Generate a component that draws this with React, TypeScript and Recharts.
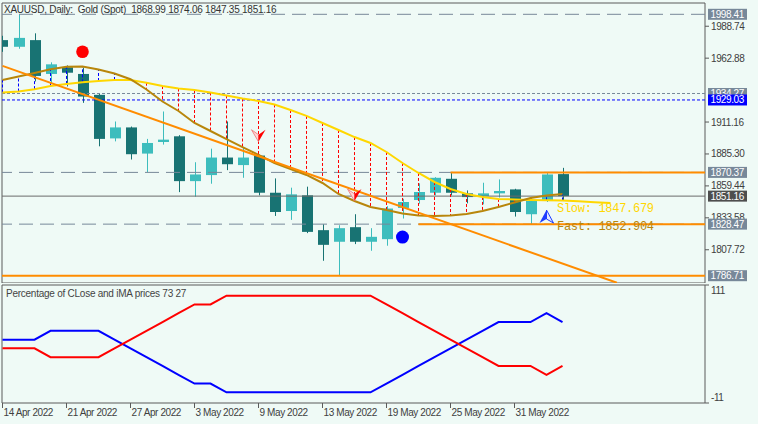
import React from 'react';
import { ComposedChart, Bar, Line, XAxis, YAxis, ReferenceLine, ReferenceDot, ReferenceArea } from 'recharts';

// daily bars, XAUUSD
const dates = [
  '14 Apr 2022', '18 Apr 2022', '19 Apr 2022', '20 Apr 2022', '21 Apr 2022', '22 Apr 2022',
  '25 Apr 2022', '26 Apr 2022', '27 Apr 2022', '28 Apr 2022', '29 Apr 2022', '2 May 2022',
  '3 May 2022', '4 May 2022', '5 May 2022', '6 May 2022', '9 May 2022', '10 May 2022',
  '11 May 2022', '12 May 2022', '13 May 2022', '16 May 2022', '17 May 2022', '18 May 2022',
  '19 May 2022', '20 May 2022', '23 May 2022', '24 May 2022', '25 May 2022', '26 May 2022',
  '27 May 2022', '30 May 2022', '31 May 2022', '1 Jun 2022', '2 Jun 2022', '3 Jun 2022',
];
const opens = [1977.5, 1972.1, 1977.5, 1950.1, 1955.5, 1950.1, 1933.2, 1897.9, 1906.8, 1885.6, 1895.0, 1899.6, 1863.3, 1868.2, 1882.4, 1876.3, 1884.0, 1853.9, 1839.1, 1851.8, 1823.6, 1814.2, 1826.0, 1814.2, 1816.3, 1841.6, 1848.0, 1853.9, 1865.2, 1853.4, 1851.2, 1853.4, 1856.6, 1836.5, 1847.2, 1868.99];
const highs = [1981.0, 1998.41, 1983.0, 1959.5, 1957.0, 1955.3, 1934.5, 1911.6, 1907.5, 1897.5, 1919.7, 1900.5, 1878.6, 1889.6, 1911.6, 1890.2, 1884.8, 1865.5, 1858.0, 1858.8, 1828.4, 1827.6, 1836.5, 1825.2, 1843.0, 1849.0, 1861.5, 1866.5, 1870.37, 1855.8, 1862.0, 1864.7, 1857.1, 1850.0, 1870.37, 1874.06];
const lows = [1968.0, 1970.5, 1944.0, 1942.0, 1940.0, 1926.7, 1891.5, 1895.5, 1880.8, 1870.6, 1892.9, 1854.4, 1850.7, 1861.2, 1872.2, 1866.0, 1851.8, 1835.1, 1831.9, 1821.2, 1798.8, 1786.71, 1812.3, 1806.9, 1811.0, 1833.0, 1845.0, 1851.8, 1851.8, 1845.3, 1844.5, 1850.0, 1834.6, 1828.47, 1846.4, 1847.35];
const closes = [1972.1, 1979.3, 1948.5, 1957.9, 1951.1, 1931.8, 1897.5, 1906.8, 1885.1, 1894.2, 1896.9, 1863.3, 1868.7, 1882.4, 1877.0, 1882.4, 1853.9, 1838.3, 1852.6, 1822.2, 1811.7, 1825.2, 1814.2, 1818.2, 1841.1, 1846.4, 1854.5, 1866.0, 1853.9, 1850.4, 1853.4, 1855.3, 1838.3, 1847.2, 1868.7, 1851.16];

// slow MA is shifted 3 bars forward
const slowMa = [1935.1, 1935.9, 1937.8, 1940.3, 1942.0, 1943.3, 1944.4, 1945.2, 1945.2, 1943.0, 1940.3, 1938.3, 1937.1, 1935.1, 1932.7, 1930.2, 1928.2, 1925.4, 1920.9, 1916.1, 1910.4, 1904.7, 1899.0, 1894.2, 1886.9, 1878.0, 1869.9, 1862.6, 1856.9, 1852.9, 1850.5, 1848.9, 1848.4, 1848.0, 1847.8, 1847.68, 1847.0, 1846.2, 1845.5];
const fastMa = [1945.2, 1948.0, 1950.9, 1953.9, 1956.0, 1956.1, 1953.7, 1950.5, 1945.8, 1937.5, 1927.8, 1920.1, 1910.4, 1903.9, 1897.4, 1890.9, 1884.5, 1878.0, 1873.1, 1868.3, 1861.8, 1852.9, 1847.2, 1842.4, 1839.9, 1837.1, 1835.5, 1835.1, 1835.5, 1836.7, 1839.1, 1842.4, 1846.0, 1849.6, 1851.7, 1852.9];

// lower window: percentage of closes above / below iMA
const pctBlue = [54.5, 54.5, 54.5, 63.6, 63.6, 63.6, 63.6, 54.5, 45.5, 36.4, 27.3, 18.2, 9.1, 9.1, 0, 0, 0, 0, 0, 0, 0, 0, 0, 0, 9.1, 18.2, 27.3, 36.4, 45.5, 54.5, 63.6, 72.7, 72.7, 72.7, 81.8, 72.7];
const pctRed = [45.5, 45.5, 45.5, 36.4, 36.4, 36.4, 36.4, 45.5, 54.5, 63.6, 72.7, 81.8, 90.9, 90.9, 100, 100, 100, 100, 100, 100, 100, 100, 100, 100, 90.9, 81.8, 72.7, 63.6, 54.5, 45.5, 36.4, 27.3, 27.3, 27.3, 18.2, 27.3];

// 1937.02 sits under the price tags, so it is left out like in the terminal
const priceTicks = [1988.74, 1962.88, 1911.16, 1885.30, 1859.44, 1833.58, 1807.72];
const pctTicks = [111, -11];
const dateTickIdx = [0, 4, 8, 12, 16, 20, 24, 28, 32];

const trendStart = { i: 0, p: 1956.6 };
const trendEnd = { i: 38.4, p: 1781.0 };
const sellCircles = [{ i: 5, p: 1968.1 }];
const buyCircles = [{ i: 25, p: 1818.0 }];
const downArrows = [{ i: 16, p: 1895.2 }, { i: 22, p: 1847.2 }];
const upArrows = [{ i: 34, p: 1839.9 }];

const X_MIN = -0.03125;
const X_MAX = 43.906;
const Y_MIN = 1780.8;
const Y_MAX = 2007.56;

const BG = '#EFFAF6';
const AXIS = '#5A5A5A';
const TXT = '#404040';
const BULL = '#3DBDBD';
const BEAR = '#187373';
const SLATE = '#778899';
const FONT = '"Liberation Sans", Arial, sans-serif';

const rows = Array.from({ length: slowMa.length }, (_, i) => ({
  i,
  range: i < opens.length ? [lows[i], highs[i]] : undefined,
  o: opens[i],
  h: highs[i],
  l: lows[i],
  c: closes[i],
  slow: slowMa[i],
  fast: fastMa[i],
}));
const pctRows = pctBlue.map((b, i) => ({ i, blue: b, red: pctRed[i] }));

const Candle = (props: any) => {
  const { x, y, width, height, payload } = props;
  if (!payload || payload.o == null) return null;
  const { o, h, l, c } = payload;
  const top = Math.min(y, y + height);
  const span = Math.abs(height);
  const k = span / (h - l);
  const cx = Math.floor(x + width / 2) + 0.5;
  const bTop = top + (h - Math.max(o, c)) * k;
  const bBot = top + (h - Math.min(o, c)) * k;
  const col = c >= o ? BULL : BEAR;
  return (
    <g>
      <line x1={cx} x2={cx} y1={top} y2={top + span} stroke={col} strokeWidth={1} />
      <rect x={cx - 5.5} y={bTop} width={11} height={Math.max(1, bBot - bTop)} fill={col} />
    </g>
  );
};

// axis ticks drawn as dots on the right edge so the price tags can cover them
const priceTick = (value: number) => (p: any) => (
  <g>
    <line x1={p.cx} x2={p.cx + 4} y1={p.cy} y2={p.cy} stroke={AXIS} />
    <text x={p.cx + 6} y={p.cy + 3.5} fontSize={10} fill={TXT} fontFamily={FONT} letterSpacing={-0.4}>
      {value.toFixed(2)}
    </text>
  </g>
);

const pctTick = (value: number) => (p: any) => (
  <g>
    <line x1={p.cx} x2={p.cx + 4} y1={p.cy} y2={p.cy} stroke={AXIS} />
    <text x={p.cx + 6} y={value > 50 ? p.cy + 8.5 : p.cy - 2} fontSize={10} fill={TXT} fontFamily={FONT} letterSpacing={-0.4}>
      {value}
    </text>
  </g>
);

const DateTick = (props: any) => {
  const { x, y, payload } = props;
  return (
    <g>
      <line x1={x} x2={x} y1={y} y2={y + 5} stroke={AXIS} />
      <text x={x + 1} y={y + 13} fontSize={10} fill={TXT} fontFamily={FONT} letterSpacing={-0.4}>
        {dates[payload.value]}
      </text>
    </g>
  );
};

const tag = (value: number, bg: string) => (p: any) => (
  <g>
    <rect x={p.cx + 3} y={p.cy - 5.5} width={39} height={11} fill={bg} />
    <text x={p.cx + 5.5} y={p.cy + 3.5} fontSize={10} fill="#ffffff" fontFamily={FONT} letterSpacing={-0.4}>
      {value.toFixed(2)}
    </text>
  </g>
);

const DownArrow = (p: any) => (
  <g>
    <polygon points={`${p.cx - 7},${p.cy - 12} ${p.cx},${p.cy - 7} ${p.cx},${p.cy}`} fill="#FFD6D6" stroke="#F08A8A" strokeWidth={1} />
    <polygon points={`${p.cx},${p.cy - 7} ${p.cx + 7},${p.cy - 12} ${p.cx},${p.cy}`} fill="#FF0000" />
  </g>
);

const UpArrow = (p: any) => (
  <g>
    <polygon points={`${p.cx - 7},${p.cy + 13} ${p.cx},${p.cy + 9} ${p.cx},${p.cy}`} fill="#1E3CFF" />
    <polygon points={`${p.cx},${p.cy + 9} ${p.cx + 7},${p.cy + 13} ${p.cx},${p.cy}`} fill="#E4EAFF" stroke="#1E3CFF" strokeWidth={1} />
  </g>
);

const labelText = (text: string, color: string) => (p: any) => (
  <text x={p.cx} y={p.cy + 4} fontSize={12} letterSpacing={-0.3} fill={color} fontFamily='"Liberation Mono", monospace'>
    {text}
  </text>
);

export default function App() {
  return (
    <div style={{ position: 'absolute', left: 0, top: 0, width: 758, height: 424, background: BG, overflow: 'hidden' }}>
      <div style={{ position: 'absolute', left: 0, top: 0 }}>
        <ComposedChart width={758} height={283} data={rows} margin={{ top: 3, right: 0, bottom: 0, left: 2 }}>
          <XAxis type="number" dataKey="i" domain={[X_MIN, X_MAX]} allowDataOverflow hide />
          <YAxis orientation="right" width={53} domain={[Y_MIN, Y_MAX]} allowDataOverflow tick={false} axisLine={false} tickLine={false} />
          <ReferenceLine y={1998.41} stroke={SLATE} strokeDasharray="14 7" ifOverflow="visible" />
          <ReferenceLine y={1934.27} stroke={SLATE} strokeDasharray="3 2" ifOverflow="visible" />
          <ReferenceLine y={1929.03} stroke="#0000FF" strokeDasharray="3 2" ifOverflow="visible" />
          <ReferenceLine y={1870.37} stroke={SLATE} strokeDasharray="14 7" ifOverflow="visible" />
          <ReferenceLine y={1828.47} stroke={SLATE} strokeDasharray="14 7" ifOverflow="visible" />
          <ReferenceLine y={1851.16} stroke="#6A6A6A" ifOverflow="visible" />
          <ReferenceLine segment={[{ x: 28, y: 1870.37 }, { x: X_MAX, y: 1870.37 }]} stroke="#FF8C00" strokeWidth={2} ifOverflow="visible" />
          <ReferenceLine segment={[{ x: 26, y: 1828.47 }, { x: X_MAX, y: 1828.47 }]} stroke="#FF8C00" strokeWidth={2} ifOverflow="visible" />
          <ReferenceLine y={1786.71} stroke="#FF8C00" strokeWidth={2} ifOverflow="visible" />
          <Bar dataKey="range" barSize={11} shape={(p: any) => <Candle {...p} />} isAnimationActive={false} />
          {fastMa.map((f, i) => (
            <ReferenceLine
              key={`v${i}`}
              segment={[{ x: i, y: slowMa[i] }, { x: i, y: f }]}
              stroke={f >= slowMa[i] ? '#0000FF' : '#FF0000'}
              strokeDasharray="3 2"
              ifOverflow="visible"
            />
          ))}
          <Line dataKey="slow" type="linear" stroke="#FFD700" strokeWidth={2} dot={false} isAnimationActive={false} />
          <Line dataKey="fast" type="linear" stroke="#B8860B" strokeWidth={2} dot={false} isAnimationActive={false} />
          <ReferenceLine
            segment={[{ x: trendStart.i, y: trendStart.p }, { x: trendEnd.i, y: trendEnd.p }]}
            stroke="#FF8C00"
            strokeWidth={2}
            ifOverflow="hidden"
          />
          {sellCircles.map((m, k) => (
            <ReferenceDot key={`s${k}`} x={m.i} y={m.p} r={6.3} fill="#FF0000" stroke="none" />
          ))}
          {buyCircles.map((m, k) => (
            <ReferenceDot key={`b${k}`} x={m.i} y={m.p} r={6.5} fill="#0000FF" stroke="none" />
          ))}
          {downArrows.map((m, k) => (
            <ReferenceDot key={`d${k}`} x={m.i} y={m.p} shape={DownArrow} />
          ))}
          {upArrows.map((m, k) => (
            <ReferenceDot key={`u${k}`} x={m.i} y={m.p} shape={UpArrow} />
          ))}
          <ReferenceDot x={34.66} y={1841.9} shape={labelText('Slow: 1847.679', '#FFD700')} />
          <ReferenceDot x={34.66} y={1827.2} shape={labelText('Fast: 1852.904', '#B8860B')} />
          <ReferenceArea x1={X_MIN} x2={X_MAX} y1={Y_MIN} y2={Y_MAX} fill="none" stroke={AXIS} ifOverflow="visible" />
          {priceTicks.map((t) => (
            <ReferenceDot key={`t${t}`} x={X_MAX} y={t} shape={priceTick(t)} ifOverflow="visible" />
          ))}
          <ReferenceDot x={X_MAX} y={1998.41} shape={tag(1998.41, SLATE)} ifOverflow="visible" />
          <ReferenceDot x={X_MAX} y={1934.27} shape={tag(1934.27, SLATE)} ifOverflow="visible" />
          <ReferenceDot x={X_MAX} y={1929.03} shape={tag(1929.03, '#0000FF')} ifOverflow="visible" />
          <ReferenceDot x={X_MAX} y={1870.37} shape={tag(1870.37, SLATE)} ifOverflow="visible" />
          <ReferenceDot x={X_MAX} y={1851.16} shape={tag(1851.16, '#4E4E4E')} ifOverflow="visible" />
          <ReferenceDot x={X_MAX} y={1828.47} shape={tag(1828.47, SLATE)} ifOverflow="visible" />
          <ReferenceDot x={X_MAX} y={1786.71} shape={tag(1786.71, SLATE)} ifOverflow="visible" />
        </ComposedChart>
      </div>
      <div style={{ position: 'absolute', left: 0, top: 284 }}>
        <ComposedChart width={758} height={140} data={pctRows} margin={{ top: 1, right: 0, bottom: 0, left: 2 }}>
          <XAxis
            type="number"
            dataKey="i"
            domain={[X_MIN, X_MAX]}
            allowDataOverflow
            ticks={dateTickIdx}
            tick={<DateTick />}
            height={21}
            tickSize={0}
            tickMargin={0}
            axisLine={false}
            tickLine={false}
            interval={0}
          />
          <YAxis orientation="right" width={53} domain={[-11, 111]} allowDataOverflow tick={false} axisLine={false} tickLine={false} />
          <Line dataKey="blue" type="linear" stroke="#0000FF" strokeWidth={2} dot={false} isAnimationActive={false} />
          <Line dataKey="red" type="linear" stroke="#FF0000" strokeWidth={2} dot={false} isAnimationActive={false} />
          <ReferenceArea x1={X_MIN} x2={X_MAX} y1={-11} y2={111} fill="none" stroke={AXIS} ifOverflow="visible" />
          {pctTicks.map((t) => (
            <ReferenceDot key={`p${t}`} x={X_MAX} y={t} shape={pctTick(t)} ifOverflow="visible" />
          ))}
        </ComposedChart>
      </div>
      <div style={{ position: 'absolute', left: 4, top: 3, fontFamily: FONT, fontSize: 10, lineHeight: '13px', color: '#333', letterSpacing: -0.25, whiteSpace: 'pre' }}>
        {'XAUUSD, Daily:  Gold (Spot)  1868.99 1874.06 1847.35 1851.16'}
      </div>
      <div style={{ position: 'absolute', left: 6, top: 287, fontFamily: FONT, fontSize: 10, lineHeight: '13px', color: '#444', letterSpacing: -0.25, whiteSpace: 'pre' }}>
        {'Percentage of CLose and iMA prices 73 27'}
      </div>
    </div>
  );
}
